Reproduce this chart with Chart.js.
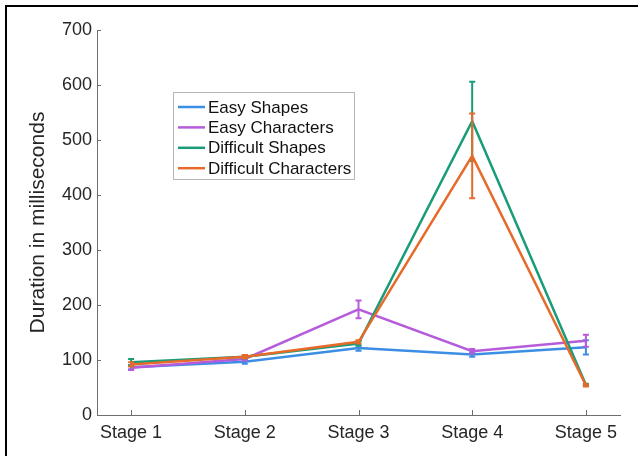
<!DOCTYPE html>
<html>
<head>
<meta charset="utf-8">
<script src="https://cdn.jsdelivr.net/npm/chart.js@4.4.1/dist/chart.umd.min.js"></script>
<style>
  html, body { margin: 0; padding: 0; background: #fff; overflow: hidden; }
  #wrap { position: relative; width: 638px; height: 456px; }
  #frame { position: absolute; left: 5px; top: 5px; width: 700px; height: 500px;
           border-left: 2px solid #000; border-top: 2px solid #000; pointer-events: none; }
</style>
</head>
<body>
<div id="wrap">
  <canvas id="c" width="638" height="456"></canvas>
  <div id="frame"></div>
</div>
<script>
// ---- data ----
const stages = ["Stage 1", "Stage 2", "Stage 3", "Stage 4", "Stage 5"];
const seriesNames = ["Easy Shapes", "Easy Characters", "Difficult Shapes", "Difficult Characters"];
const easyShapes = [87, 97, 122, 110, 123];
const easyShapesErr = [4, 4, 5, 4, 13];
const easyChars = [86, 102, 192, 116, 135];
const easyCharsErr = [4, 3, 16, 4, 11];
const diffShapes = [96, 106, 130, 534, 55];
const diffShapesErr = [6, 3, 4, 72, 2];
const diffChars = [92, 106, 133, 471, 54];
const diffCharsErr = [4, 3, 3, 77, 2];
const yTicks = [0, 100, 200, 300, 400, 500, 600, 700];

const colors = ["#3b8ee3", "#b65cdb", "#1a9c78", "#e66b2b"];
const values = [easyShapes, easyChars, diffShapes, diffChars];
const errors = [easyShapesErr, easyCharsErr, diffShapesErr, diffCharsErr];
const FONT = "'Liberation Sans', Arial, Helvetica, sans-serif";
const AXIS = "#6e6e6e";

const datasets = seriesNames.map((name, k) => ({
  label: name,
  data: values[k].map((v, i) => ({ x: i + 1, y: v })),
  errors: errors[k],
  borderColor: colors[k],
  backgroundColor: colors[k],
  borderWidth: 2.5,
  pointRadius: 0,
  tension: 0,
  order: 4 - k
}));

const errorBars = {
  id: 'errorBars',
  afterDatasetDraw(chart, args) {
    const ds = chart.data.datasets[args.index];
    const xs = chart.scales.x, ys = chart.scales.y;
    const ctx = chart.ctx;
    ctx.save();
    ctx.strokeStyle = ds.borderColor;
    ctx.lineWidth = 2;
    ds.data.forEach((p, i) => {
      const e = ds.errors[i];
      const px = xs.getPixelForValue(p.x);
      const top = ys.getPixelForValue(p.y + e);
      const bot = ys.getPixelForValue(p.y - e);
      ctx.beginPath();
      ctx.moveTo(px, top); ctx.lineTo(px, bot);
      ctx.moveTo(px - 3, top); ctx.lineTo(px + 3, top);
      ctx.moveTo(px - 3, bot); ctx.lineTo(px + 3, bot);
      ctx.stroke();
    });
    ctx.restore();
  }
};

const innerTicks = {
  id: 'innerTicks',
  afterDraw(chart) {
    const ctx = chart.ctx, xs = chart.scales.x, ys = chart.scales.y;
    const a = chart.chartArea;
    ctx.save();
    ctx.strokeStyle = AXIS;
    ctx.lineWidth = 1;
    ctx.beginPath();
    ys.ticks.forEach(t => {
      const py = Math.round(ys.getPixelForValue(t.value)) + 0.5;
      ctx.moveTo(a.left, py); ctx.lineTo(a.left + 4, py);
    });
    xs.ticks.forEach(t => {
      const px = Math.round(xs.getPixelForValue(t.value)) + 0.5;
      ctx.moveTo(px, a.bottom); ctx.lineTo(px, a.bottom - 5);
    });
    ctx.stroke();
    ctx.restore();
  }
};

const boxLegend = {
  id: 'boxLegend',
  afterDraw(chart) {
    const ctx = chart.ctx;
    const x0 = 173, y0 = 92, w = 181, h = 87;
    ctx.save();
    ctx.fillStyle = '#fff';
    ctx.fillRect(x0, y0, w, h);
    ctx.strokeStyle = '#b5b5b5';
    ctx.lineWidth = 1;
    ctx.strokeRect(x0 + 0.5, y0 + 0.5, w, h);
    ctx.font = "17px " + FONT;
    ctx.textBaseline = 'middle';
    ctx.fillStyle = '#111';
    chart.data.datasets.forEach((ds, i) => {
      const cy = y0 + 15 + i * 20.4;
      ctx.strokeStyle = ds.borderColor;
      ctx.lineWidth = 2.5;
      ctx.beginPath();
      ctx.moveTo(x0 + 5, cy); ctx.lineTo(x0 + 32, cy);
      ctx.stroke();
      ctx.fillText(ds.label, x0 + 35, cy + 1);
    });
    ctx.restore();
  }
};

new Chart(document.getElementById('c'), {
  type: 'line',
  data: { datasets },
  options: {
    responsive: false,
    animation: false,
    devicePixelRatio: 1,
    layout: { padding: { top: 30, right: 18, left: 0, bottom: 0 } },
    plugins: { legend: { display: false }, tooltip: { enabled: false } },
    scales: {
      x: {
        type: 'linear',
        min: 0.7, max: 5.3,
        afterBuildTicks: s => { s.ticks = stages.map((_, i) => ({ value: i + 1 })); },
        afterFit: s => { s.height = 41; },
        grid: { display: false, drawTicks: false },
        border: { display: true, color: AXIS, width: 1 },
        ticks: {
          callback: v => stages[v - 1],
          color: '#262626',
          font: { family: FONT, size: 18 },
          padding: 7,
          maxRotation: 0,
          autoSkip: false
        }
      },
      y: {
        min: 0, max: 700,
        afterBuildTicks: s => { s.ticks = yTicks.map(v => ({ value: v })); },
        afterFit: s => { s.width = 97; },
        grid: { display: false, drawTicks: false },
        border: { display: true, color: AXIS, width: 1 },
        ticks: {
          color: '#262626',
          font: { family: FONT, size: 18 },
          padding: 5
        },
        title: {
          display: true,
          text: 'Duration in milliseconds',
          color: '#262626',
          font: { family: FONT, size: 21 },
          padding: { top: 26, bottom: 0 }
        }
      }
    }
  },
  plugins: [errorBars, innerTicks, boxLegend]
});
</script>
</body>
</html>
